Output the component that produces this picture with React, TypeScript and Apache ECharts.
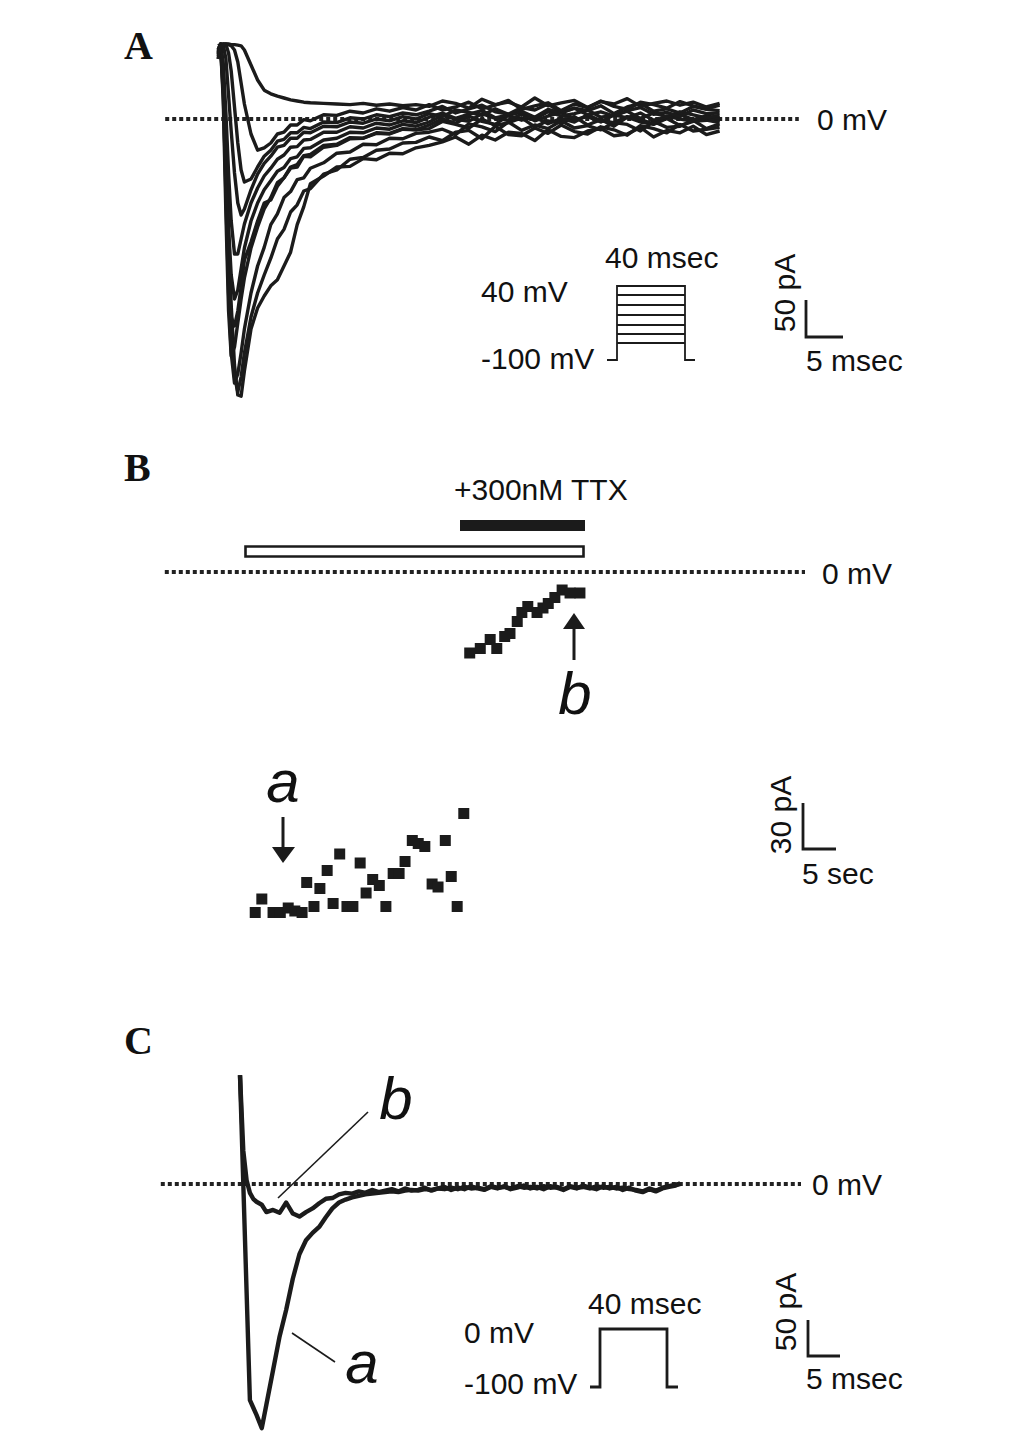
import React, { useEffect, useRef } from "react";
import * as echarts from "echarts";

// ---------- Panel A: current family (time in ms, current in pA) ----------
const tA = [0, 0.4, 0.8, 1.2, 1.6, 2, 2.5, 3, 3.5, 4, 5, 6, 7, 8, 9, 10, 11, 12, 13, 14, 16, 18, 20, 22, 24, 26, 28, 30,
  32, 34, 36, 38, 40, 42, 44, 46, 48, 50, 52, 54, 56, 58, 60, 62, 64, 66, 68, 70, 72, 74, 76];

const traceA1 = [100, 125, 90, -60, -200, -310, -410, -460, -462, -420, -350, -315, -295, -278, -268, -245, -222, -176, -146, -108, -95, -80, -79, -66, -68, -57, -58, -48,
  -44, -38, -30, -42, -27, -35, -22, -24, -36, -18, -29, -31, -20, -16, -28, -25, -14, -30, -19, -23, -12, -26, -20];
const traceA2 = [110, 125, 70, -90, -240, -350, -430, -455, -430, -390, -330, -290, -260, -232, -200, -184, -155, -143, -120, -116, -92, -85, -67, -64, -52, -50, -40, -39,
  -30, -36, -22, -19, -33, -12, -26, -28, -15, -24, -10, -21, -25, -13, -18, -27, -11, -16, -23, -9, -20, -17, -14];
const traceA3 = [115, 122, 50, -130, -290, -390, -440, -425, -390, -350, -290, -245, -214, -176, -158, -131, -121, -101, -98, -82, -73, -57, -55, -42, -43, -32, -33, -24,
  -22, -17, -26, -8, -13, -21, -5, -19, -10, -16, -3, -15, -11, -18, -6, -9, -20, -4, -14, -12, -2, -16, -8];
const traceA4 = [118, 120, 30, -160, -320, -395, -380, -340, -300, -265, -215, -180, -150, -131, -106, -98, -80, -76, -61, -59, -44, -42, -31, -32, -23, -24, -16, -18,
  -16, -4, -9, -15, 0, -11, -6, 2, -13, -3, -7, 4, -10, -1, -12, 3, -5, -9, 1, -11, -4, -2, -6];
const traceA5 = [120, 118, 40, -110, -250, -330, -345, -320, -280, -235, -205, -170, -140, -135, -112, -98, -82, -80, -62, -63, -47, -44, -33, -32, -24, -25, -17, -18,
  -10, 0, -7, 5, -4, -9, 6, -2, 3, -8, 1, -5, 7, -3, -6, 4, -1, -8, 5, 0, -4, 2, -2];
const traceA6 = [122, 120, 60, -60, -180, -260, -300, -285, -250, -215, -170, -140, -118, -103, -87, -81, -66, -63, -49, -48, -35, -32, -22, -23, -15, -17, -9, -12,
  -5, 6, 0, -4, 9, 1, -2, 8, -3, 5, 11, -1, 4, -5, 7, 2, 10, -2, 3, 8, -1, 5, 1];
const traceA7 = [122, 124, 90, 10, -90, -170, -225, -225, -200, -175, -140, -115, -95, -82, -67, -60, -47, -46, -35, -34, -22, -22, -13, -15, -7, -10, -3, -6,
  3, 10, 1, 8, 14, 2, 7, 11, 0, 12, 5, 9, 15, 3, 6, 13, 1, 10, 4, 12, 7, 2, 6];
const traceA8 = [115, 125, 124, 100, 40, -20, -90, -140, -160, -150, -118, -92, -74, -62, -47, -44, -32, -32, -22, -23, -12, -13, -5, -7, 0, -3, 4, 0,
  9, 4, 15, 11, 6, 17, 8, 13, 3, 16, 10, 18, 7, 12, 5, 14, 19, 8, 11, 4, 15, 9, 10];
const traceA9 = [112, 124, 125, 124, 110, 80, 20, -40, -85, -105, -100, -80, -62, -52, -37, -34, -23, -23, -14, -16, -5, -6, 2, 0, 7, 4, 10, 7,
  13, 21, 10, 17, 23, 12, 8, 19, 15, 25, 11, 18, 14, 22, 9, 20, 26, 13, 17, 10, 21, 16, 14];
const traceA10 = [108, 122, 125, 125, 124, 122, 115, 95, 60, 25, -25, -52, -48, -40, -25, -22, -10, -10, -1, -3, 7, 6, 13, 10, 17, 13, 19, 15,
  24, 15, 20, 28, 17, 23, 31, 16, 22, 27, 14, 25, 19, 30, 21, 16, 28, 24, 18, 29, 22, 17, 23];
const traceA11 = [105, 120, 124, 125, 125, 124, 124, 123, 122, 115, 90, 65, 48, 42, 38, 35, 32, 30, 28, 27, 26, 25, 24, 26, 23, 25, 22, 24,
  21, 30, 26, 18, 33, 24, 28, 20, 35, 22, 27, 31, 19, 29, 25, 34, 21, 26, 30, 23, 28, 20, 26];
const tracesA = [traceA1, traceA2, traceA3, traceA4, traceA5, traceA6, traceA7, traceA8, traceA9, traceA10, traceA11];

// ---------- Panel B: peak current over time (s, pA) ----------
const timeB = [1.7, 2.7, 4.4, 5.5, 6.7, 7.7, 8.8, 9.5, 10.6, 11.5, 12.6, 13.5, 14.5, 15.6, 16.5, 17.6, 18.5, 19.5, 20.5, 21.5,
  22.6, 23.5, 24.4, 25.5, 26.4, 27.4, 28.5, 29.4, 30.5, 31.4, 32.3, 33.3,
  34.2, 35.8, 37.3, 38.3, 39.5, 40.3, 41.4, 42.1, 43.0, 44.4, 45.3, 46.1, 47.1, 48.2, 49.4, 50.9];
const currentB = [-227, -218, -227, -227, -224, -226, -227, -207, -223, -211, -199, -221, -188, -223, -223, -194, -214, -205, -209, -223,
  -201, -201, -193, -179, -181, -183, -208, -210, -179, -203, -223, -161,
  -54, -51, -45, -51, -43, -41, -33, -27, -23, -27, -24, -21, -17, -12, -14, -14];

// ---------- Panel C: traces a (control) and b (TTX) (ms, pA) ----------
const tC = [0, 0.5, 1, 1.5, 2, 2.5, 3.3, 4, 5, 6, 7, 8, 9, 10, 11, 12, 13, 14, 15, 16,
  17, 18, 19, 20, 21, 22, 23, 24, 25, 26, 27, 28, 29, 30, 31, 32, 33, 34, 35, 36,
  37, 38, 39, 40, 41, 42, 43, 44, 45, 46, 47, 48, 49, 50, 51, 52, 53, 54, 55, 56,
  57, 58, 59, 60, 61, 62, 63, 64, 65, 66, 66.7];
const traceCa = [147, 0, -146, -292, -302, -312, -330, -298, -252, -206, -170, -128, -95, -76, -66, -58, -45, -33, -25, -21,
  -18, -16, -14, -13, -12, -11, -10, -11, -9, -8, -9, -7, -8, -6, -7, -5, -7, -4, -6, -5,
  -7, -3, -5, -4, -6, -3, -5, -4, -6, -3, -5, -4, -7, -3, -5, -4, -6, -3, -5, -4,
  -6, -5, -7, -8, -10, -6, -9, -5, -3, -1, 0];
const traceCb = [147, 45, 5, -12, -20, -24, -28, -38, -35, -39, -25, -40, -44, -38, -33, -26, -20, -19, -14, -12,
  -13, -10, -12, -8, -11, -9, -7, -10, -6, -9, -8, -5, -9, -6, -4, -8, -5, -7, -3, -6,
  -8, -4, -6, -3, -7, -5, -2, -6, -4, -7, -3, -5, -8, -4, -6, -2, -5, -7, -3, -6,
  -4, -8, -5, -9, -11, -7, -10, -6, -4, -2, 1];

const zeroA = [[-8, 0], [88, 0]];
const zeroB = [[-12, 0], [85, 0]];
const zeroC = [[-12, 0], [85, 0]];

const INK = "#1b1b1b";
const SANS = '"Liberation Sans", Arial, sans-serif';
const SERIF = '"Liberation Serif", "Times New Roman", serif';

function txt(text: string, x: number, y: number, font: string, align = "left", rotation = 0) {
  return {
    type: "text",
    x,
    y,
    rotation,
    style: {
      text,
      font,
      fill: "#111",
      align,
      verticalAlign: "middle",
      textAlign: align,
      textVerticalAlign: "middle",
    },
  };
}
function poly(points: number[][], lineWidth: number) {
  return { type: "polyline", shape: { points }, style: { stroke: INK, lineWidth, fill: null } };
}
function seg(x1: number, y1: number, x2: number, y2: number, lineWidth: number) {
  return { type: "line", shape: { x1, y1, x2, y2 }, style: { stroke: INK, lineWidth } };
}

export default function App() {
  const ref = useRef<HTMLDivElement>(null);
  useEffect(() => {
    if (!ref.current) return;
    const chart = echarts.init(ref.current, undefined, { renderer: "svg" });

    const dotted = (data: number[][], idx: number) => ({
      type: "line",
      xAxisIndex: idx,
      yAxisIndex: idx,
      data,
      symbol: "none",
      silent: true,
      z: 1,
      lineStyle: { color: "#222", width: 4, type: [4, 3] },
    });

    const series: any[] = [dotted(zeroA, 0), dotted(zeroB, 1), dotted(zeroC, 2)];
    tracesA.forEach((vals, i) => {
      series.push({
        type: "line",
        name: "A" + (i + 1),
        xAxisIndex: 0,
        yAxisIndex: 0,
        data: tA.map((t, k) => [t, vals[k]]),
        symbol: "none",
        clip: false,
        z: 3,
        lineStyle: { color: INK, width: 3.4, join: "round" },
      });
    });
    series.push({
      type: "scatter",
      xAxisIndex: 1,
      yAxisIndex: 1,
      data: timeB.map((t, k) => [t, currentB[k]]),
      symbol: "rect",
      symbolSize: 11,
      itemStyle: { color: INK, opacity: 1 },
      z: 3,
    });
    [traceCa, traceCb].forEach((vals, i) => {
      series.push({
        type: "line",
        name: i === 0 ? "a" : "b",
        xAxisIndex: 2,
        yAxisIndex: 2,
        data: tC.map((t, k) => [t, vals[k]]),
        symbol: "none",
        clip: false,
        z: 3,
        lineStyle: { color: INK, width: 4.4, join: "round" },
      });
    });

    const label = `30px ${SANS}`;
    const ital = `italic 60px ${SANS}`;
    const panel = `bold 40px ${SERIF}`;

    const graphic: any[] = [
      // Panel letters
      txt("A", 124, 45, panel),
      txt("B", 124, 467, panel),
      txt("C", 124, 1040, panel),
      // Panel A annotations
      txt("0 mV", 817, 119, label),
      txt("40 msec", 605, 257, label),
      txt("40 mV", 481, 291, label),
      txt("-100 mV", 481, 358, label),
      poly([[607, 360], [617, 360], [617, 286], [685, 286], [685, 360], [695, 360]], 1.8),
      seg(617, 295, 685, 295, 1.8),
      seg(617, 305, 685, 305, 1.8),
      seg(617, 315, 685, 315, 1.8),
      seg(617, 325, 685, 325, 1.8),
      seg(617, 334, 685, 334, 1.8),
      seg(617, 343, 685, 343, 1.8),
      poly([[806, 300], [806, 337], [843, 337]], 2.8),
      txt("50 pA", 784, 293, label, "center", Math.PI / 2),
      txt("5 msec", 806, 360, label),
      // Panel B annotations
      txt("+300nM TTX", 454, 489, label),
      { type: "rect", shape: { x: 460, y: 520, width: 125, height: 11 }, style: { fill: INK } },
      { type: "rect", shape: { x: 245.5, y: 546.5, width: 338, height: 10 }, style: { fill: "#fff", stroke: INK, lineWidth: 2.6 } },
      txt("0 mV", 822, 573, label),
      txt("b", 575, 693, ital, "center"),
      seg(574, 660, 574, 626, 3),
      { type: "polygon", shape: { points: [[563, 629], [585, 629], [574, 613]] }, style: { fill: INK } },
      txt("a", 283, 781, ital, "center"),
      seg(283, 817, 283, 849, 3),
      { type: "polygon", shape: { points: [[272, 847], [295, 847], [283, 863]] }, style: { fill: INK } },
      poly([[803, 803], [803, 849], [836, 849]], 2.8),
      txt("30 pA", 780, 815, label, "center", Math.PI / 2),
      txt("5 sec", 802, 873, label),
      // Panel C annotations
      txt("0 mV", 812, 1184, label),
      txt("b", 396, 1098, ital, "center"),
      seg(368, 1112, 278, 1198, 1.6),
      txt("a", 362, 1362, ital, "center"),
      seg(292, 1333, 335, 1362, 1.6),
      txt("40 msec", 588, 1303, label),
      txt("0 mV", 464, 1332, label),
      txt("-100 mV", 464, 1383, label),
      poly([[590, 1387], [600, 1387], [600, 1329], [667, 1329], [667, 1387], [678, 1387]], 2.8),
      poly([[808, 1320], [808, 1356], [840, 1356]], 2.8),
      txt("50 pA", 785, 1312, label, "center", Math.PI / 2),
      txt("5 msec", 806, 1378, label),
    ];

    chart.setOption({
      animation: false,
      backgroundColor: "#ffffff",
      grid: [
        { left: 165.2, top: 29, width: 633.6, height: 390 },
        { left: 164.8, top: 512, width: 640.2, height: 420 },
        { left: 160.8, top: 1036, width: 640.2, height: 399.6 },
      ],
      xAxis: [
        { type: "value", gridIndex: 0, min: -8, max: 88, show: false },
        { type: "value", gridIndex: 1, min: -12, max: 85, show: false },
        { type: "value", gridIndex: 2, min: -12, max: 85, show: false },
      ],
      yAxis: [
        { type: "value", gridIndex: 0, min: -500, max: 150, show: false },
        { type: "value", gridIndex: 1, min: -240, max: 40, show: false },
        { type: "value", gridIndex: 2, min: -340, max: 200, show: false },
      ],
      series,
      graphic,
    });
    return () => chart.dispose();
  }, []);

  return (
    <div
      ref={ref}
      style={{ position: "fixed", left: 0, top: 0, width: 1033, height: 1436, background: "#fff" }}
    />
  );
}
